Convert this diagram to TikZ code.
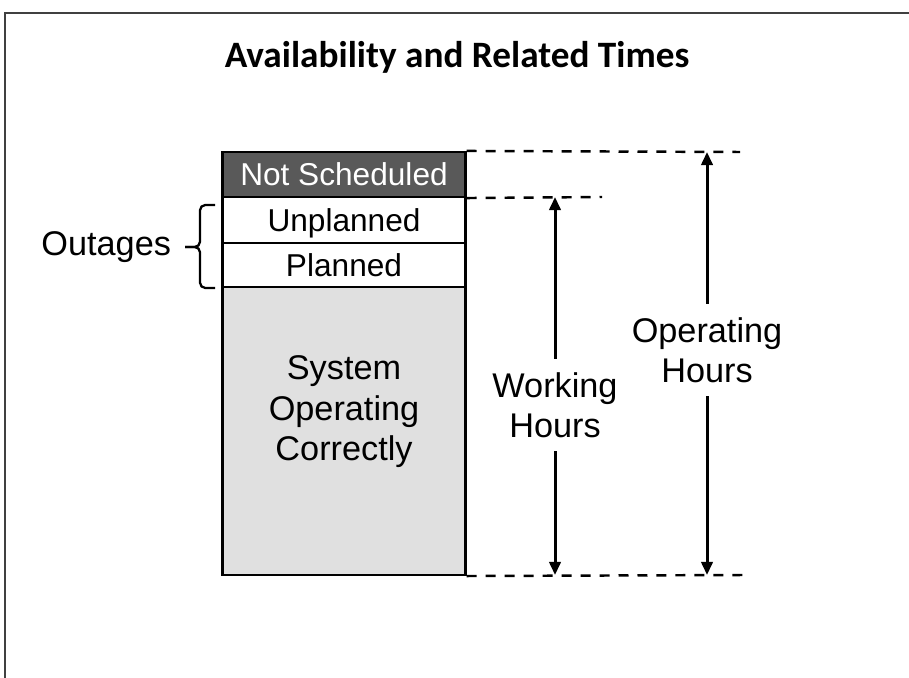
\documentclass[tikz,border=0pt]{standalone}
\usepackage{fontspec}
\setmainfont{Liberation Sans}
\newfontfamily\titlefont{Carlito}
\usetikzlibrary{arrows.meta}
\definecolor{schedgray}{RGB}{89,89,89}
\definecolor{opgray}{RGB}{224,224,224}
\begin{document}
\begin{tikzpicture}
[x=0.02cm, y=-0.02cm, line width=1.2pt,
band/.style={rectangle, draw, inner sep=0pt, minimum width=4.86cm, text depth=0pt, font=\fontsize{18}{21}\selectfont},
notsched/.style={band, fill=schedgray, text=white},
outage/.style={band, fill=white},
sysop/.style={band, fill=opgray},
tag/.style={align=center, inner sep=7pt, font=\fontsize{19.5}{23}\selectfont},
guide/.style={dash pattern=on 0.2cm off 0.18cm, line width=1.4pt},
span/.style={-{Triangle[width=6.5pt, length=7.5pt]}, line width=1.7pt},
bracket/.style={rounded corners=3pt, line width=1.3pt}
]

% frame
\useasboundingbox (0,0) rectangle (909,678);
\draw[line width=1.1pt, draw=black!75] (5,678) -- (5,13) -- (909,13);

\node[font=\titlefont\fontsize{21.2}{25}\selectfont\bfseries] (title) at (457,57) {Availability and Related Times};

% stacked bar
\node[notsched, minimum height=0.9cm] (ns) at (344,174.5) {Not Scheduled};
\node[outage, minimum height=0.92cm] (unpl) at (344,220) {Unplanned};
\node[outage, minimum height=0.88cm] (pl) at (344,265) {Planned};
\node[sysop, minimum height=5.76cm] (soc) at (344,431) {};
\node[tag, inner sep=0pt] (soctext) at (344,412) {System\\Operating\\Correctly};

% outages brace
\coordinate (tip) at (185,247);
\draw[bracket] (215,205) -- (200,205) -- (200,247) -- (tip);
\draw[bracket] (tip) -- (200,247) -- (200,288) -- (215,288);
\node[tag, anchor=east, inner sep=0pt] (outages) at (172,247) {Outages};

% guide lines
\coordinate (optop) at (707,152);
\coordinate (wktop) at (555,197);
\coordinate (wkbot) at (555,575);
\coordinate (opbot) at (707,575);
\draw[guide] (ns.north east) -- (740,152);
\draw[guide] (ns.south east) -- (602,197);
\draw[guide] (soc.south east) -- (745,575);

% hours arrows
\node[tag] (working) at (555,405) {Working\\Hours};
\node[tag] (operating) at (707,350) {Operating\\Hours};
\draw[span] (working) -- (wktop);
\draw[span] (working) -- (wkbot);
\draw[span] (operating) -- (optop);
\draw[span] (operating) -- (opbot);

\end{tikzpicture}
\end{document}
